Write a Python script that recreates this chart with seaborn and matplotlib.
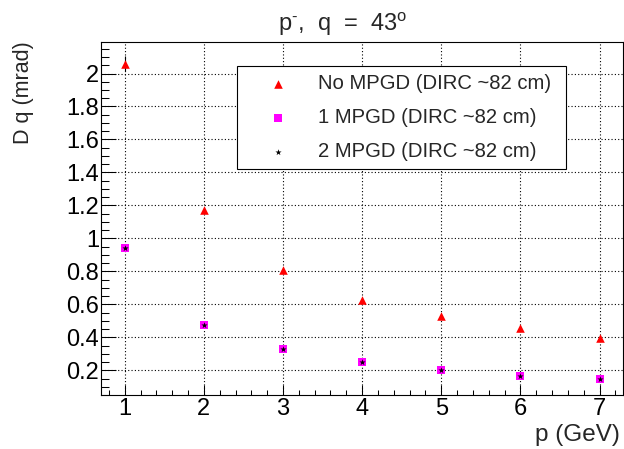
import numpy as np
import pandas as pd
import matplotlib
matplotlib.use("Agg")
import matplotlib.pyplot as plt
import seaborn as sns
from matplotlib.ticker import MultipleLocator, FuncFormatter

# ---- data ----
p_gev = [1, 2, 3, 4, 5, 6, 7]
no_mpgd = [2.06, 1.17, 0.81, 0.625, 0.527, 0.457, 0.398]
no_mpgd_err = [0.045, 0, 0, 0, 0, 0, 0]
one_mpgd = [0.94, 0.476, 0.33, 0.248, 0.200, 0.166, 0.145]
two_mpgd = [0.94, 0.476, 0.33, 0.248, 0.200, 0.166, 0.145]
labels = ["No MPGD (DIRC ~82 cm)", "1 MPGD (DIRC ~82 cm)", "2 MPGD (DIRC ~82 cm)"]
x_ticks = [1, 2, 3, 4, 5, 6, 7]
y_ticks = [0.2, 0.4, 0.6, 0.8, 1.0, 1.2, 1.4, 1.6, 1.8, 2.0]
title = r"p$^{\text{-}}$,  q  =  43$^{\mathrm{o}}$"

sns.set_style("ticks")
plt.rcParams['font.family'] = ['Liberation Sans', 'DejaVu Sans']
plt.rcParams['mathtext.fontset'] = 'custom'
plt.rcParams['mathtext.rm'] = 'Liberation Sans'
plt.rcParams['mathtext.it'] = 'Liberation Sans:italic'

W, H = 624, 449
fig = plt.figure(figsize=(W / 100, H / 100), dpi=100)
L, R, T, B = 101, 622.5, 41.7, 395
ax = fig.add_axes([L / W, 1 - B / H, (R - L) / W, (B - T) / H])

df = pd.DataFrame({"p": p_gev, "no": no_mpgd, "one": one_mpgd, "two": two_mpgd})

ax.errorbar(df["p"], df["no"], yerr=no_mpgd_err, fmt='none', ecolor='black',
            elinewidth=0.8, zorder=2)
sns.scatterplot(data=df, x="p", y="no", marker='^', color='#ff0000', s=38,
                linewidth=0, label=labels[0], ax=ax, zorder=3)
sns.scatterplot(data=df, x="p", y="one", marker='s', color='#ff00ff', s=36,
                linewidth=0, label=labels[1], ax=ax, zorder=4)
sns.scatterplot(data=df, x="p", y="two", marker='*', color='black', s=22,
                linewidth=0, label=labels[2], ax=ax, zorder=5)

ax.set_xlim(0.70, 7.29)
ax.set_ylim(0.05, 2.193)
ax.set_xticks(x_ticks)
ax.set_yticks(y_ticks)
ax.xaxis.set_minor_locator(MultipleLocator(0.2))
ax.yaxis.set_minor_locator(MultipleLocator(0.05))
ax.yaxis.set_major_formatter(FuncFormatter(lambda v, pos: f"{v:g}"))

ax.set_axisbelow(True)
ax.grid(True, which='major', color='black', linestyle=(0, (1, 2)), linewidth=0.8)
ax.grid(False, which='minor')

for sp in ax.spines.values():
    sp.set_color('black')
    sp.set_linewidth(0.8)

ax.tick_params(axis='both', which='both', direction='in', top=False, right=False,
               color='black', width=0.75, labelsize=17, labelcolor='black')
ax.tick_params(axis='y', which='major', length=10.8, pad=1.5)
ax.tick_params(axis='y', which='minor', length=5.8)
ax.tick_params(axis='x', which='major', length=7.2, pad=2.0)
ax.tick_params(axis='x', which='minor', length=3.6)

ax.set_ylabel("D q (mrad)", loc='top', fontsize=15.5)
ax.yaxis.set_label_coords(-0.128, 1.0)
ax.set_xlabel("p (GeV)", loc='right', fontsize=17.5)
ax.xaxis.set_label_coords(0.995, -0.082)

fig.text(343 / W, 1 - 31 / H, title, ha='center', va='baseline', fontsize=17)

leg = ax.legend(loc='upper left', bbox_to_anchor=(0.261, 0.636, 0.631, 0.296),
                mode='expand', fontsize=14.6, frameon=True, fancybox=False,
                framealpha=1, edgecolor='black', borderpad=0.4, labelspacing=0.75,
                handlelength=3.2, handletextpad=0.4, borderaxespad=0)
leg.get_frame().set_linewidth(0.8)

fig.savefig("out.png", dpi=100)
